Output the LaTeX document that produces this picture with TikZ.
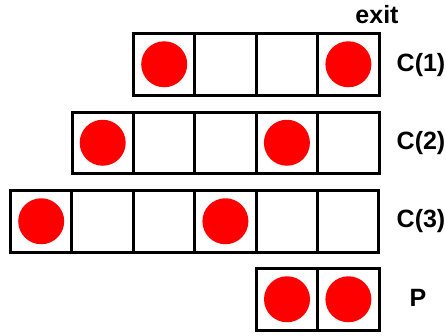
\documentclass[tikz,border=0pt]{standalone}
\usepackage{fontspec}
\setmainfont{Liberation Sans}
\begin{document}
\begin{tikzpicture}[x=1pt,y=-1pt,
  cell/.style={draw=black,line width=3pt,minimum width=61.4pt,minimum height=61.5pt,inner sep=0pt,outer sep=0pt,anchor=north west},
  ball/.style={circle,fill=red,minimum size=46pt,inner sep=0pt},
  lbl/.style={font=\fontsize{25}{29}\selectfont\bfseries,inner sep=0pt}]
\useasboundingbox (0,0) rectangle (446,335);
% C(1)
\foreach \i in {0,...,3} \node[cell] (a\i) at ({133.5+61.4*\i},33.5) {};
% C(2)
\foreach \i in {0,...,4} \node[cell] (b\i) at ({72+61.4*\i},112) {};
% C(3)
\foreach \i in {0,...,5} \node[cell] (c\i) at ({10.5+61.4*\i},190.5) {};
% P
\foreach \i in {0,1} \node[cell] (p\i) at ({256.3+61.4*\i},268.5) {};
\node[ball] (ba0) at (a0.center) {};
\node[ball] (ba3) at (a3.center) {};
\node[ball] (bb0) at (b0.center) {};
\node[ball] (bb3) at (b3.center) {};
\node[ball] (bc0) at (c0.center) {};
\node[ball] (bc3) at (c3.center) {};
\node[ball] (bp0) at (p0.center) {};
\node[ball] (bp1) at (p1.center) {};
\node[lbl] (exit) at (377,15) {exit};
\node[lbl] (l1) at (421,65) {C(1)};
\node[lbl] (l2) at (421,143) {C(2)};
\node[lbl] (l3) at (421,221) {C(3)};
\node[lbl] (lp) at (418,298) {P};
\end{tikzpicture}
\end{document}
